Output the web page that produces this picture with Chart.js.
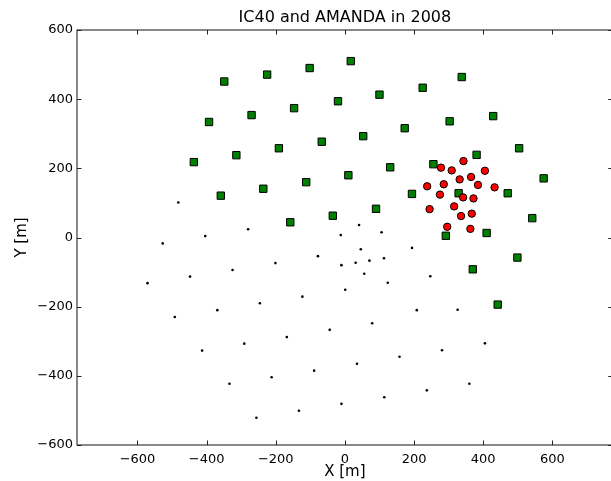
<!DOCTYPE html>
<html>
<head>
<meta charset="utf-8">
<script src="https://cdn.jsdelivr.net/npm/chart.js@4/dist/chart.umd.min.js"></script>
<style>
html,body{margin:0;padding:0;background:#fff;overflow:hidden;}
canvas{display:block;}
</style>
</head>
<body>
<canvas id="c" width="619" height="481"></canvas>
<script>
const title = "IC40 and AMANDA in 2008";
const xLabel = "X [m]";
const yLabel = "Y [m]";
const xTicks = [-600, -400, -200, 0, 200, 400, 600];
const yTicks = [-600, -400, -200, 0, 200, 400, 600];

// IC40 strings (green squares)
const ic40X = [-349,-225,-102,17,-20,-147,-270,-393,-67,-191,-314,-437,10,-112,-236,-359,-35,-158,
               338,225,100,429,303,173,53,504,381,256,131,575,194,329,471,90,542,292,410,499,370,442];
const ic40Y = [451,471,490,510,394,374,354,334,277,258,238,218,180,160,141,121,63,44,
               464,433,413,351,336,316,293,258,239,212,203,171,126,128,128,83,56,5,13,-58,-92,-194];

// AMANDA strings (red circles)
const amandaX = [343,278,309,405,332,365,238,286,385,433,275,342,372,245,316,336,367,296,363];
const amandaY = [221,202,194,193,168,175,148,154,152,145,124,116,113,82,90,62,69,31,25];

// remaining IceCube strings (small black dots)
const otherX = [-482,-404,-280,-12,-527,41,106,-571,-448,-325,-201,-78,-10,1,-492,-369,-246,-123,
                -413,-291,-168,-44,-334,-212,-89,-256,-133,-10,194,46,31,71,113,56,124,247,208,326,
                79,405,281,158,35,360,237,114];
const otherY = [101,4,24,7,-17,36,15,-132,-113,-94,-74,-54,-80,-151,-230,-210,-190,-171,
                -327,-307,-288,-267,-423,-404,-385,-521,-501,-481,-30,-34,-73,-67,-60,-105,-131,-112,-210,-209,
                -248,-306,-326,-345,-365,-423,-442,-462];

const pts = (xs, ys) => xs.map((x, i) => ({x: x, y: ys[i]}));
const FONT = "'DejaVu Sans', sans-serif";
const minus = v => String(v).replace('-', '\u2212');

const framePlugin = {
  id: 'frame',
  afterDraw(chart) {
    const ctx = chart.ctx;
    const a = chart.chartArea;
    const xs = chart.scales.x, ys = chart.scales.y;
    ctx.save();
    ctx.strokeStyle = '#3a3a3a';
    ctx.lineWidth = 1.2;
    ctx.strokeRect(a.left, a.top, a.right - a.left, a.bottom - a.top);
    ctx.lineWidth = 1;
    ctx.strokeStyle = '#222';
    const tl = 4.5;
    ctx.beginPath();
    xTicks.forEach(v => {
      const p = Math.round(xs.getPixelForValue(v)) + 0.5;
      ctx.moveTo(p, a.bottom); ctx.lineTo(p, a.bottom - tl);
      ctx.moveTo(p, a.top); ctx.lineTo(p, a.top + tl);
    });
    yTicks.forEach(v => {
      const p = Math.round(ys.getPixelForValue(v)) + 0.5;
      ctx.moveTo(a.left, p); ctx.lineTo(a.left + tl, p);
      ctx.moveTo(a.right, p); ctx.lineTo(a.right - tl, p);
    });
    ctx.stroke();
    ctx.fillStyle = '#000';
    ctx.textAlign = 'center';
    ctx.textBaseline = 'alphabetic';
    ctx.font = '16px ' + FONT;
    ctx.fillText(title, (a.left + a.right) / 2, 22);
    ctx.font = '15px ' + FONT;
    ctx.fillText(xLabel, (a.left + a.right) / 2, 476);
    ctx.translate(26, (a.top + a.bottom) / 2);
    ctx.rotate(-Math.PI / 2);
    ctx.fillText(yLabel, 0, 0);
    ctx.restore();
  }
};

new Chart(document.getElementById('c'), {
  type: 'scatter',
  data: {
    datasets: [
      {label: 'AMANDA', data: pts(amandaX, amandaY), order: 0,
       pointStyle: 'circle', pointRadius: 3.7, pointHoverRadius: 3.7,
       backgroundColor: '#ff0000', borderColor: '#000', borderWidth: 1},
      {label: 'IC40', data: pts(ic40X, ic40Y), order: 1,
       pointStyle: 'rect', pointRadius: 5.2, pointHoverRadius: 5.2,
       backgroundColor: '#008000', borderColor: '#000', borderWidth: 1},
      {label: 'Other', data: pts(otherX, otherY), order: 2,
       pointStyle: 'circle', pointRadius: 1.3, pointHoverRadius: 1.3,
       backgroundColor: '#000', borderColor: '#000', borderWidth: 0}
    ]
  },
  options: {
    responsive: false,
    animation: false,
    devicePixelRatio: 1,
    layout: {padding: {top: 30, right: 1, left: 0, bottom: 0}},
    plugins: {legend: {display: false}, title: {display: false}, tooltip: {enabled: false}},
    scales: {
      x: {
        type: 'linear', min: -775, max: 775,
        grid: {display: false, drawTicks: false}, border: {display: false},
        afterBuildTicks: s => { s.ticks = xTicks.map(v => ({value: v})); },
        afterFit: s => { s.height = 36; s.paddingLeft = 0; s.paddingRight = 0; },
        ticks: {padding: 7, color: '#000', font: {family: FONT, size: 13}, callback: minus, maxRotation: 0}
      },
      y: {
        type: 'linear', min: -600, max: 600,
        grid: {display: false, drawTicks: false}, border: {display: false},
        afterBuildTicks: s => { s.ticks = yTicks.map(v => ({value: v})); },
        afterFit: s => { s.width = 77; s.paddingTop = 0; s.paddingBottom = 0; },
        ticks: {padding: 4, color: '#000', font: {family: FONT, size: 13}, callback: minus}
      }
    }
  },
  plugins: [framePlugin]
});
</script>
</body>
</html>
